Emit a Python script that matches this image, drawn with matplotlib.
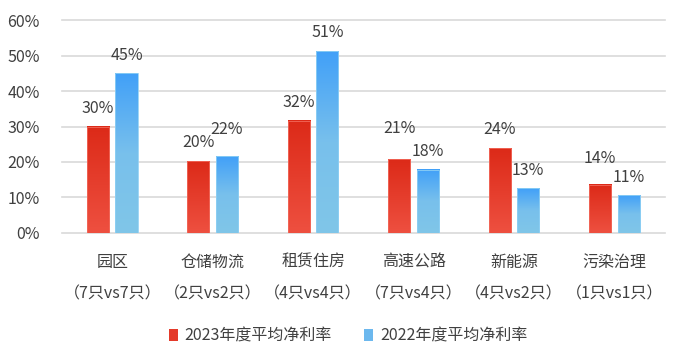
import matplotlib
matplotlib.use("Agg")
import matplotlib.pyplot as plt
from matplotlib.colors import LinearSegmentedColormap
from matplotlib.patches import Patch
import numpy as np

plt.rcParams['font.family'] = ['Noto Sans CJK SC', 'DejaVu Sans']

categories = ['园区', '仓储物流', '租赁住房', '高速公路', '新能源', '污染治理']
counts = ['（7只vs7只）', '（2只vs2只）', '（4只vs4只）', '（7只vs4只）', '（4只vs2只）', '（1只vs1只）']
rate_2023 = [30.0, 20.3, 31.7, 20.8, 23.9, 13.6]
rate_2022 = [45.0, 21.6, 51.3, 17.8, 12.6, 10.6]
series_names = ['2023年度平均净利率', '2022年度平均净利率']
y_ticks = [0, 10, 20, 30, 40, 50, 60]

text_color = '#404040'
red_cmap = LinearSegmentedColormap.from_list('red', ['#ee5040', '#dc2a18'])
blue_cmap = LinearSegmentedColormap.from_list('blue', ['#80c6e8', '#78c0ec', '#41a0f8'])

# labels nudged up where they would crowd their neighbour (as in the original)
label_lift_2023 = {3: 9, 5: 6}
label_lift_2022 = {1: 6}

fig = plt.figure(figsize=(7, 3.6), dpi=100)
ax = fig.add_axes([0.0886, 0.353, 0.861, 0.591])

x = np.arange(len(categories))
width = 0.22
offset = 0.142
grad = np.linspace(0, 1, 256).reshape(-1, 1)


def gradient_bars(xs, values, cmap, edge, lift):
    for i, (xc, v) in enumerate(zip(xs, values)):
        ax.imshow(grad, extent=[xc - width / 2, xc + width / 2, 0, v],
                  origin='lower', aspect='auto', cmap=cmap, zorder=2)
        ax.bar(xc, v, width, facecolor='none', edgecolor=edge, linewidth=0.6, zorder=3)
        ax.annotate(f"{v:.0f}%", (xc, v), xytext=(0, 7 + lift.get(i, 0)),
                    textcoords='offset points', ha='center', va='bottom',
                    fontsize=11.5, color=text_color)


gradient_bars(x - offset, rate_2023, red_cmap, '#f26a5c', label_lift_2023)
gradient_bars(x + offset, rate_2022, blue_cmap, '#8fd0f4', label_lift_2022)

ax.set_xlim(-0.5, len(categories) - 0.5)
ax.set_ylim(0, 60)
ax.set_yticks(y_ticks)
ax.set_yticklabels([f"{t}%" for t in y_ticks])
ax.yaxis.grid(True, color='#d9d9d9', linewidth=1.2, clip_on=False)
ax.set_axisbelow(True)
for s in ax.spines.values():
    s.set_visible(False)
ax.tick_params(axis='y', length=0, pad=16, labelsize=11.5, labelcolor=text_color)

ax.set_xticks(x)
ax.set_xticklabels([f"{c}\n{n}" for c, n in zip(categories, counts)],
                   linespacing=2.1, fontsize=11.5, color=text_color)
ax.tick_params(axis='x', length=0, pad=15)

handles = [Patch(facecolor='#e43a2a', edgecolor='none'),
           Patch(facecolor='#6cb8ee', edgecolor='none')]
fig.legend(handles, series_names, loc='center', bbox_to_anchor=(0.497, 0.067), ncol=2,
           frameon=False, fontsize=11.5, handlelength=0.6, handleheight=0.8,
           handletextpad=0.4, columnspacing=2.0, labelcolor=text_color)

fig.savefig('out.png', dpi=100)
